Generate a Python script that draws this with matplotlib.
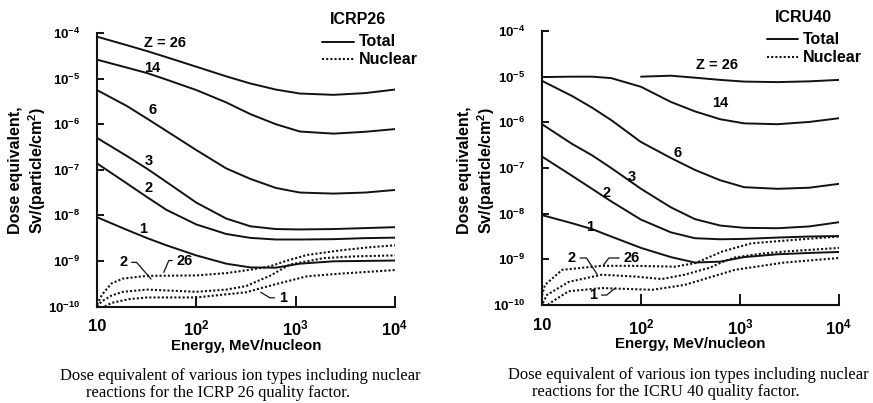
import numpy as np
import matplotlib
matplotlib.use("Agg")
import matplotlib.pyplot as plt
from matplotlib.lines import Line2D

plt.rcParams["font.family"] = "Liberation Sans"
plt.rcParams["font.weight"] = "bold"
plt.rcParams["mathtext.fontset"] = "custom"
plt.rcParams["mathtext.rm"] = "Liberation Sans:bold"
plt.rcParams["mathtext.it"] = "Liberation Sans:bold"
plt.rcParams["mathtext.bf"] = "Liberation Sans:bold"

W, H = 873, 403

# ---- 데이터 (읽은 값) ----
# 공통 에너지 격자 (MeV/nucleon)
E_grid = [10, 20, 32, 50, 100, 200, 350, 630, 1100, 2400, 5000, 10000]

# ICRP26 total
icrp_total = {
    "26": [8.3e-5, 5.4e-5, 4.0e-5, 2.95e-5, 1.82e-5, 1.12e-5, 7.8e-6, 5.75e-6, 4.7e-6, 4.4e-6, 4.8e-6, 5.75e-6],
    "14": [2.6e-5, 1.74e-5, 1.32e-5, 9.5e-6, 5.6e-6, 3.0e-6, 1.66e-6, 1.0e-6, 6.9e-7, 6.2e-7, 6.8e-7, 7.8e-7],
    "6": [5.6e-6, 2.5e-6, 1.32e-6, 7.1e-7, 2.7e-7, 1.07e-7, 6.3e-8, 4.0e-8, 3.16e-8, 3.0e-8, 3.16e-8, 3.6e-8],
    "3": [5.0e-7, 2.0e-7, 1.05e-7, 5.4e-8, 1.9e-8, 8.5e-9, 5.75e-9, 5.0e-9, 4.9e-9, 5.0e-9, 5.25e-9, 5.5e-9],
    "2": [1.38e-7, 5.0e-8, 2.5e-8, 1.32e-8, 6.3e-9, 3.9e-9, 3.2e-9, 2.95e-9, 2.95e-9, 3.0e-9, 3.16e-9, 3.24e-9],
    "1": [9.1e-9, 4.8e-9, 3.16e-9, 2.2e-9, 1.32e-9, 8.7e-10, 7.2e-10, 7.1e-10, 8.7e-10, 9.8e-10, 1.0e-9, 1.02e-9],
}
# ICRP26 nuclear
icrp_nuc_E = {
    "26": [10, 11.2, 14, 18.2, 32, 100, 200, 316, 550, 800, 1300, 2800, 5600, 10000],
    "2": [10, 11.2, 14, 18.2, 32, 100, 200, 316, 560, 870, 1900, 4000, 10000],
    "1": [12, 14, 21, 32, 100, 316, 600, 1300, 2800, 10000],
}
icrp_nuc = {
    "26": [1.1e-10, 1.8e-10, 3.2e-10, 4.1e-10, 4.7e-10, 4.8e-10, 5.4e-10, 6.2e-10, 7.6e-10, 1.0e-9, 1.35e-9, 1.7e-9, 2.0e-9, 2.2e-9],
    "2": [1.0e-10, 1.3e-10, 1.74e-10, 2.1e-10, 2.35e-10, 2.1e-10, 2.35e-10, 2.8e-10, 4.8e-10, 8.3e-10, 1.15e-9, 1.26e-9, 1.32e-9],
    "1": [1.0e-10, 1.2e-10, 1.45e-10, 1.58e-10, 1.58e-10, 2.05e-10, 3.0e-10, 4.6e-10, 5.25e-10, 6.3e-10],
}

# ICRU40 total
icru_E26 = [100, 200, 350, 630, 1100, 2400, 5000, 10000]
icru_total = {
    "26": [1.0e-5, 1.05e-5, 9.5e-6, 8.5e-6, 7.8e-6, 7.6e-6, 7.9e-6, 8.5e-6],
    "14": [9.8e-6, 1.0e-5, 1.0e-5, 9.3e-6, 6.0e-6, 2.8e-6, 1.74e-6, 1.17e-6, 9.5e-7, 9.1e-7, 1.02e-6, 1.23e-6],
    "6": [8.1e-6, 3.8e-6, 2.1e-6, 1.12e-6, 3.7e-7, 1.66e-7, 9.1e-8, 5.4e-8, 3.8e-8, 3.5e-8, 3.7e-8, 4.5e-8],
    "3": [9.1e-7, 3.4e-7, 1.9e-7, 1.0e-7, 3.5e-8, 1.38e-8, 7.6e-9, 5.5e-9, 4.9e-9, 4.8e-9, 5.25e-9, 6.5e-9],
    "2": [1.78e-7, 6.8e-8, 3.5e-8, 1.86e-8, 7.4e-9, 3.9e-9, 2.9e-9, 2.75e-9, 2.8e-9, 3.0e-9, 3.16e-9, 3.24e-9],
    "1": [9.3e-9, 6.2e-9, 4.6e-9, 3.16e-9, 1.78e-9, 1.12e-9, 8.5e-10, 8.9e-10, 1.12e-9, 1.29e-9, 1.38e-9, 1.45e-9],
}
# ICRU40 nuclear
icru_nuc_E = {
    "26": [10, 10.7, 16, 40, 87, 220, 355, 660, 1300, 4200, 10000],
    "2": [10.2, 11.2, 18.6, 40, 87, 162, 275, 500, 660, 890, 1600, 2800, 10000],
    "1": [11.5, 12, 18.6, 40, 130, 275, 890, 2800, 10000],
}
icru_nuc = {
    "26": [1.6e-10, 2.75e-10, 5.9e-10, 7.2e-10, 7.2e-10, 6.9e-10, 8.3e-10, 1.48e-9, 2.24e-9, 2.75e-9, 3.16e-9],
    "2": [1.1e-10, 1.66e-10, 3.2e-10, 4.6e-10, 4.2e-10, 3.7e-10, 4.6e-10, 6.6e-10, 8.7e-10, 1.1e-9, 1.32e-9, 1.48e-9, 1.78e-9],
    "1": [1.0e-10, 1.1e-10, 2.0e-10, 2.35e-10, 2.15e-10, 2.75e-10, 5.9e-10, 8.5e-10, 1.07e-9],
}

X_TICKS = [10, 100, 1000, 10000]
X_TICKLABELS = ["10", "$10^2$", "$10^3$", "$10^4$"]
Y_TICKS = [1e-10, 1e-9, 1e-8, 1e-7, 1e-6, 1e-5, 1e-4]
Y_TICKLABELS = ["$10^{-10}$", "$10^{-9}$", "$10^{-8}$", "$10^{-7}$", "$10^{-6}$", "$10^{-5}$", "$10^{-4}$"]

SOLID = dict(color="#111111", lw=1.4, solid_capstyle="round")
DOTTED = dict(color="#111111", lw=1.5, ls=(0, (1, 1)))


def fx(px):
    return px / W


def fy(py):
    return 1 - py / H


def setup(ax):
    ax.set_xscale("log"); ax.set_yscale("log")
    ax.set_xlim(10, 1e4); ax.set_ylim(1e-10, 1e-4)
    for s in ("top", "right"):
        ax.spines[s].set_visible(False)
    for s in ("left", "bottom"):
        ax.spines[s].set_linewidth(1.5)
        ax.spines[s].set_color("#111111")
    ax.set_xticks(X_TICKS); ax.set_xticklabels(X_TICKLABELS, fontsize=12)
    ax.set_yticks(Y_TICKS); ax.set_yticklabels(Y_TICKLABELS, fontsize=9.5)
    ax.minorticks_off()
    ax.tick_params(axis="x", direction="in", length=8, width=1.3, pad=9)
    ax.tick_params(axis="y", direction="in", length=5, width=1.3, pad=12)
    ax.set_xlabel("Energy, MeV/nucleon", fontsize=10.8, fontweight="bold", labelpad=0)
    ax.patch.set_alpha(0)


def legend(title, x0, x1, yt, y1, y2, title_x):
    fig.text(fx(title_x), fy(yt), title, ha="center", va="center", fontsize=11.5, fontweight="bold")
    fig.add_artist(Line2D([fx(x0), fx(x1)], [fy(y1), fy(y1)], transform=fig.transFigure, **SOLID))
    fig.add_artist(Line2D([fx(x0), fx(x1)], [fy(y2), fy(y2)], transform=fig.transFigure, **DOTTED))
    fig.text(fx(x1 + 5), fy(y1), "Total", ha="left", va="center", fontsize=11.5, fontweight="bold")
    fig.text(fx(x1 + 5), fy(y2), "Nuclear", ha="left", va="center", fontsize=11.5, fontweight="bold")


def leader(ax, s, xy, xytext, angA, angB):
    ax.annotate(s, xy=xy, xytext=xytext, ha="center", va="center", fontsize=10.5, fontweight="bold",
                arrowprops=dict(arrowstyle="-", lw=0.9, color="#111111", shrinkA=1, shrinkB=0,
                                connectionstyle=f"angle,angleA={angA},angleB={angB},rad=0"))


fig = plt.figure(figsize=(W / 100, H / 100), dpi=100)
ax1 = fig.add_axes([fx(97), fy(306.5), (395 - 97) / W, (306.5 - 33) / H])
ax2 = fig.add_axes([fx(542), fy(305), (839 - 542) / W, (305 - 31) / H])

kw = dict(fontsize=10.5, fontweight="bold", ha="center", va="center")

# ---- ICRP26 ----
setup(ax1)
for z, d in icrp_total.items():
    ax1.plot(E_grid, d, **SOLID)
for z in icrp_nuc:
    ax1.plot(icrp_nuc_E[z], icrp_nuc[z], **DOTTED)
ax1.text(48, 6.0e-5, "Z = 26", **kw)
ax1.text(36, 1.7e-5, "14", **kw)
ax1.text(36, 2.0e-6, "6", **kw)
ax1.text(33, 1.55e-7, "3", **kw)
ax1.text(33, 3.9e-8, "2", **kw)
ax1.text(29, 5.1e-9, "1", **kw)
leader(ax1, "2", (35, 4.0e-10), (18.5, 9.3e-10), 0, 131)
leader(ax1, "26", (47, 5.6e-10), (76, 1.02e-9), 180, 67)
leader(ax1, "1", (445, 2.05e-10), (740, 1.55e-10), 180, -31)
legend("ICRP26", 322, 354, 20, 42, 59, 358)

# ---- ICRU40 ----
setup(ax2)
ax2.plot(icru_E26, icru_total["26"], **SOLID)
for z, d in icru_total.items():
    if z != "26":
        ax2.plot(E_grid, d, **SOLID)
for z in icru_nuc:
    ax2.plot(icru_nuc_E[z], icru_nuc[z], **DOTTED)
ax2.text(582, 1.8e-5, "Z = 26", **kw)
ax2.text(630, 2.6e-6, "14", **kw)
ax2.text(235, 2.1e-7, "6", **kw)
ax2.text(81, 6.5e-8, "3", **kw)
ax2.text(45, 2.9e-8, "2", **kw)
ax2.text(30.5, 5.1e-9, "1", **kw)
leader(ax2, "2", (36, 4.7e-10), (20, 1.07e-9), 0, 123)
leader(ax2, "26", (42, 7.6e-10), (80, 1.07e-9), 180, 53)
leader(ax2, "1", (55, 2.35e-10), (33, 1.65e-10), 0, 39)
legend("ICRU40", 767, 798, 17, 39, 57, 803)

# ---- y 라벨 ----
ylab = "Dose equivalent,\nSv/(particle/cm$^2$)"
fig.text(fx(28), fy(170), ylab, rotation=90, ha="center", va="center", multialignment="center",
         fontsize=11.5, fontweight="bold", linespacing=1.15)
fig.text(fx(477), fy(170), ylab, rotation=90, ha="center", va="center", multialignment="center",
         fontsize=11.5, fontweight="bold", linespacing=1.15)

# ---- 캡션 ----
cap = dict(family="Liberation Serif", fontweight="normal", fontsize=11.9, ha="left", va="center")
fig.text(fx(60), fy(376), "Dose equivalent of various ion types including nuclear", **cap)
fig.text(fx(86), fy(393), "reactions for the ICRP 26 quality factor.", **cap)
fig.text(fx(508), fy(375), "Dose equivalent of various ion types including nuclear", **cap)
fig.text(fx(532), fy(392), "reactions for the ICRU 40 quality factor.", **cap)

fig.savefig("out.png", dpi=100, facecolor="white")
